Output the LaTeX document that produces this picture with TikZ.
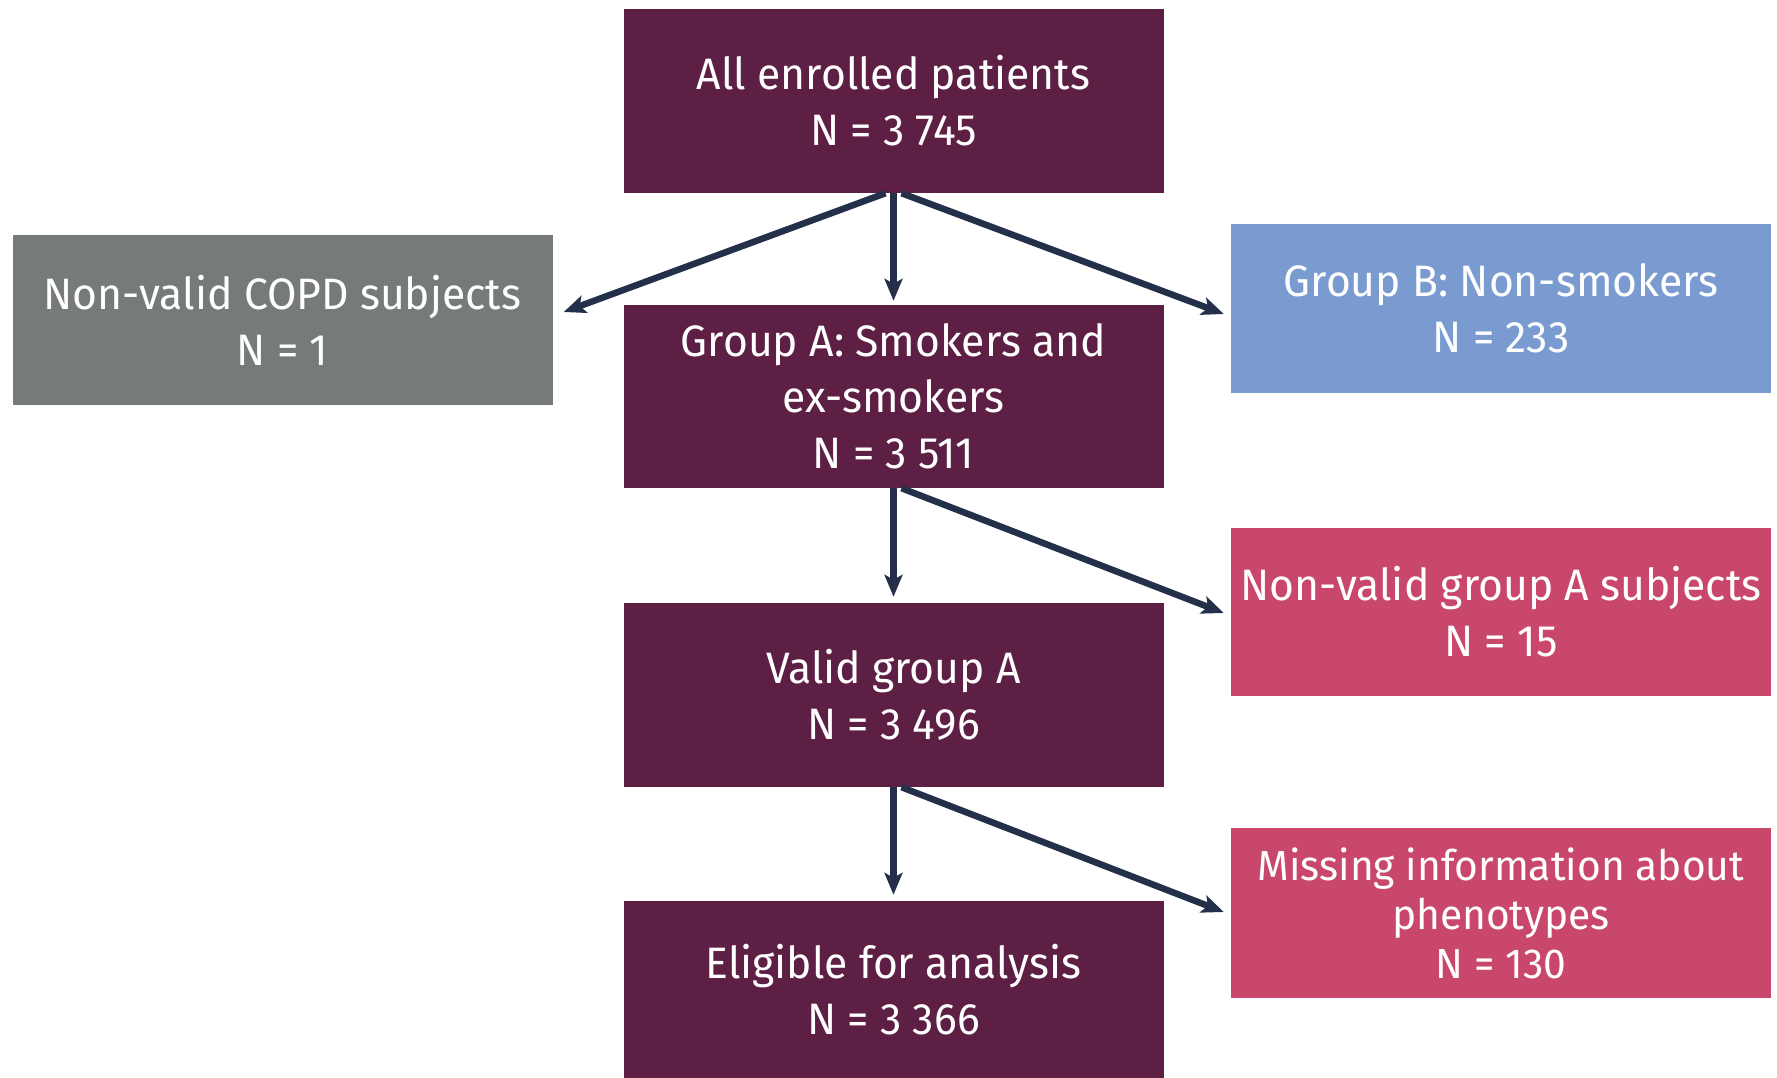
\documentclass[tikz,border=0pt]{standalone}
\usepackage{fontspec}
\setmainfont{Fira Sans}[FakeStretch=0.97]
\usetikzlibrary{arrows.meta,calc}
\definecolor{maroon}{HTML}{5E1F45}
\definecolor{greybox}{HTML}{767A7A}
\definecolor{bluebox}{HTML}{7A9BD0}
\definecolor{pinkbox}{HTML}{C9476B}
\definecolor{arrowc}{HTML}{24304A}
\begin{document}
\begin{tikzpicture}[x=1pt,y=-1pt,
  box/.style={rectangle,inner sep=0pt,minimum width=540pt,text=white,align=center,
    font=\fontsize{44}{56}\selectfont},
  arr/.style={draw=arrowc,line width=6.5pt,-{Stealth[length=22pt,width=18pt,inset=5pt]}}]
\useasboundingbox (0,0) rectangle (1777,1078);
\node[box,fill=maroon,minimum height=184pt] (top) at (893.5,101) {All enrolled patients\\N = 3 745};
\node[box,fill=maroon,minimum height=183pt] (groupA) at (893.5,396.5) {Group A: Smokers and\\ex-smokers\\N = 3 511};
\node[box,fill=maroon,minimum height=184pt] (valid) at (893.5,695) {Valid group A\\N = 3 496};
\node[box,fill=maroon,minimum height=177pt] (elig) at (893.5,989.5) {Eligible for analysis\\N = 3 366};
\node[box,fill=greybox,minimum height=170pt] (grey) at (282.5,320) {Non-valid COPD subjects\\N = 1};
\node[box,fill=bluebox,minimum height=169pt] (groupB) at (1501,308.5) {Group B: Non-smokers\\N = 233};
\node[box,fill=pinkbox,minimum height=168pt] (nvA) at (1501,612) {Non-valid group A subjects\\N = 15};
\node[box,fill=pinkbox,minimum height=170pt,font=\fontsize{42}{49}\selectfont] (miss) at (1501,913) {Missing information about\\phenotypes\\N = 130};
% arrows
\draw[arr] (top.south) -- ($(groupA.north)+(0,-4)$);
\draw[arr] ($(top.south)+(-8,0)$) -- ($(grey.east)+(11,-8)$);
\draw[arr] ($(top.south)+(8,0)$) -- ($(groupB.west)+(-7,5.5)$);
\draw[arr] (groupA.south) -- ($(valid.north)+(0,-6)$);
\draw[arr] ($(groupA.south)+(8,0)$) -- ($(nvA.west)+(-7,1)$);
\draw[arr] (valid.south) -- ($(elig.north)+(0,-6)$);
\draw[arr] ($(valid.south)+(8,0)$) -- ($(miss.west)+(-7,-1)$);
\end{tikzpicture}
\end{document}
